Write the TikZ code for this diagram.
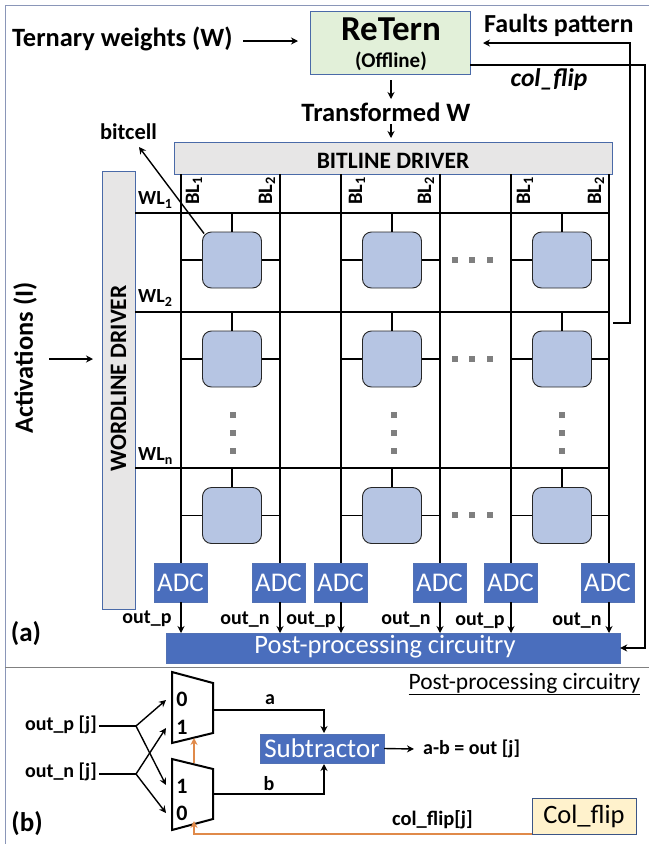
\documentclass[tikz,border=0pt]{standalone}
\usepackage{fontspec}
\setmainfont{Carlito}
\usetikzlibrary{arrows.meta}
\definecolor{edgeblue}{HTML}{4A6AA8}
\definecolor{adcblue}{HTML}{4A6EBD}
\definecolor{cellblue}{HTML}{B6C5E3}
\definecolor{drvgray}{HTML}{E7E6E6}
\definecolor{retgreen}{HTML}{E2F0D9}
\definecolor{flipyellow}{HTML}{FFF2CC}
\definecolor{orangeline}{HTML}{E08A4A}
\definecolor{framecol}{HTML}{8A96B8}
\definecolor{dotgray}{HTML}{7F7F7F}
\tikzset{
  lbl/.style={inner sep=0pt,font=\bfseries\fontsize{#1}{#1}\selectfont,text=black},
  lbl/.default=18,
  boxed/.style={draw=edgeblue,line width=0.9pt,inner sep=0pt,minimum width=#1},
  adcbox/.style={draw=adcblue!85!gray,fill=adcblue,inner sep=0pt,text=white,minimum width=52.5pt,minimum height=39pt,font=\fontsize{27}{27}\selectfont},
  cellbox/.style={draw=black!85,line width=0.9pt,fill=cellblue,rounded corners=9pt,minimum width=59pt,minimum height=56pt,inner sep=0pt},
  wire/.style={draw=black,line width=1.5pt},
  arr/.style={draw=black,line width=1.4pt,-{Stealth[length=7pt,width=7pt]}},
  oarr/.style={draw=orangeline,line width=1.4pt,-{Stealth[length=7pt,width=7pt]}},
  muxshape/.style={draw=black,line width=2pt},
  dotsq/.style={fill=dotgray,draw=none,minimum size=5.5pt,inner sep=0pt},
}
\begin{document}
\begin{tikzpicture}[x=1pt,y=-1pt]
\useasboundingbox (0,0) rectangle (649,844);
% frame
\coordinate (ftl) at (5,5); \coordinate (ftr) at (649,5); \coordinate (fbl) at (5,844);
\coordinate (sl) at (5,667); \coordinate (sr) at (649,667);
\draw[framecol,line width=0.8pt] (ftr) -- (ftl) -- (fbl);
\draw[gray,line width=0.8pt] (sl) -- (sr);

\node[boxed=438pt,fill=drvgray,minimum height=32pt] (bld) at (393,158) {};
\node[lbl=23.5] (bldt) at (393,161) {BITLINE DRIVER};
\node[boxed=33pt,fill=drvgray,minimum height=438pt] (wld) at (118.5,390) {};
\node[rotate=90,lbl=23.5] (wldt) at (118.5,378.5) {WORDLINE DRIVER};

\node[boxed=159.5pt,fill=retgreen,minimum height=63pt] (ret) at (390.2,42.5) {};
\node[lbl=35] (rett) at (391,29) {ReTern};
\node[lbl=21] (reto) at (391,61) {(Offline)};

\node[fill=adcblue,draw=adcblue!85!gray,inner sep=0pt,minimum width=454pt,minimum height=30pt] (post) at (393,648) {};
\node[inner sep=0pt,text=white,font=\fontsize{26.5}{26.5}\selectfont] (postt) at (385,647) {Post-processing circuitry};

% ADCs
\foreach \n/\x in {1/181,2/279,3/341,4/440,5/511,6/608}{
  \node[adcbox] (adc\n) at (\x-0.5,582.5) {ADC};
}
% bitlines
\foreach \n/\x in {1/181,2/280,3/341,4/440,5/511,6/609}{
  \coordinate (bt\n) at (\x,174);
  \coordinate (ab\n) at (\x,563);
  \coordinate (pb\n) at (\x,602);
  \coordinate (pt\n) at (\x,633);
  \draw[wire] (bt\n) -- (ab\n);
  \draw[arr] (pb\n) -- (pt\n);
}
% wordlines
\foreach \n/\y in {1/213,2/312,3/468}{
  \coordinate (wa\n) at (135,\y);
  \coordinate (wb\n) at (609,\y);
  \draw[wire] (wa\n) -- (wb\n);
}
% cells
\foreach \c/\x/\l/\r in {1/232/181/280,2/392/341/440,3/562/511/609}{
  \foreach \rw/\y/\w in {1/260/213,2/359/312,3/515.5/468}{
    \node[cellbox] (cell\c\rw) at (\x,\y) {};
    \coordinate (wt) at (\x,\w);
    \coordinate (ll) at (\l,\y);
    \coordinate (rr) at (\r,\y);
    \draw[wire] (wt) -- (cell\c\rw.north);
    \draw[wire] (ll) -- (cell\c\rw.west);
    \draw[wire] (rr) -- (cell\c\rw.east);
  }
}
% dots
\foreach \y in {260,359,515}{
  \foreach \x in {455,472,490}{ \node[dotsq] at (\x,\y) {}; }
}
\foreach \x in {233,394,562}{
  \foreach \y in {415,433,451}{ \node[dotsq] at (\x,\y) {}; }
}
% BL and WL labels
\foreach \x/\t in {194/1,267/2,357/1,426/2,525/1,596/2}{
  \node[rotate=90,lbl=20.5] at (\x,191) {BL\textsubscript{\t}};
}
\node[lbl=20,anchor=west] at (138,200) {WL\textsubscript{1}};
\node[lbl=20,anchor=west] at (138,298) {WL\textsubscript{2}};
\node[lbl=20,anchor=west] at (138,456) {WL\textsubscript{n}};

% top labels
\node[lbl=26.4,anchor=west] (tw) at (12,39) {Ternary weights (W)};
\coordinate (twa) at (243,41); \coordinate (twb) at (298,41);
\draw[arr] (twa) -- (twb);
\node[lbl=26,anchor=west] (fp) at (484,25) {Faults pattern};
\coordinate (fa) at (613,323); \coordinate (fb) at (630,323); \coordinate (fc) at (630,43); \coordinate (fd) at (483,43);
\draw[arr] (fa) -- (fb) -- (fc) -- (fd);
\coordinate (ca) at (470,65); \coordinate (cb) at (645,65); \coordinate (cc) at (645,648);
\draw[arr] (ca) -- (cb) -- (cc) -- (post.east);
\node[inner sep=0pt,font=\bfseries\itshape\fontsize{25.5}{25.5}\selectfont] (cf) at (549,80) {col\_flip};
\coordinate (ta) at (391,80); \coordinate (tb) at (391,99);
\draw[arr] (ta) -- (tb);
\node[lbl=26.5] (tw2) at (386,112) {Transformed W};
\coordinate (tc) at (391,124); \coordinate (td) at (391,138);
\draw[arr] (tc) -- (td);
\node[lbl=22.5] (bc) at (128.5,132) {bitcell};
\coordinate (bcb) at (139,147);
\draw[arr] (cell11.north west) ++(2,2) -- (bcb);
\node[rotate=90,lbl=26.4] (act) at (25,358) {Activations (I)};
\coordinate (aa) at (49,359); \coordinate (ab) at (93,359);
\draw[arr] (aa) -- (ab);
\node[lbl=27] (la) at (26,634) {(a)};

% out labels
\foreach \x/\y/\t in {147/619/out\_p,245/620/out\_n,311/620/out\_p,406/620/out\_n,480/621/out\_p,577/621/out\_n}{
  \node[lbl=20] at (\x,\y) {\t};
}

% part b
\node[inner sep=0pt,font=\fontsize{23.5}{23.5}\selectfont] (pc) at (524.5,684) {\underline{Post-processing circuitry}};
\node[lbl=27] (lb) at (27,824) {(b)};

\draw[muxshape] (172,672) -- (213,683) -- (213,733) -- (172,743) -- cycle;
\draw[muxshape] (172,759) -- (213,769) -- (213,819) -- (172,830) -- cycle;
\coordinate (m1o) at (213,710); \coordinate (m2o) at (213,794);
\coordinate (m1a) at (166,700); \coordinate (m1b) at (166,728);
\coordinate (m2a) at (166,785); \coordinate (m2b) at (166,813);
\node[lbl=22] at (182,699) {0};
\node[lbl=22] at (182,727) {1};
\node[lbl=22] at (182,786) {1};
\node[lbl=22] at (182,813) {0};

\node[lbl=20,anchor=east] (op) at (97,725) {out\_p [j]};
\node[lbl=20,anchor=east] (on) at (97,772) {out\_n [j]};
\coordinate (opj) at (136,726); \coordinate (onj) at (136,774);
\coordinate (ops) at (99,726); \coordinate (ons) at (99,774);
\draw[wire] (ops) -- (opj);
\draw[wire] (ons) -- (onj);
\draw[arr] (opj) -- (m1a);
\draw[arr] (opj) -- (m2a);
\draw[arr] (onj) -- (m1b);
\draw[arr] (onj) -- (m2b);

\node[fill=adcblue,draw=adcblue!85!gray,inner sep=0pt,minimum width=124pt,minimum height=29pt,text=white,font=\fontsize{27}{27}\selectfont] (sub) at (322,748.5) {Subtractor};
\coordinate (sa) at (324,710); \coordinate (sb) at (324,794);
\coordinate (st) at (324,733); \coordinate (sd) at (324,764);
\draw[arr] (m1o) -- (sa) -- (st);
\draw[arr] (m2o) -- (sb) -- (sd);
\node[lbl=20] (a) at (270,700) {a};
\node[lbl=20] (b) at (269,784) {b};
\coordinate (so) at (414,749);
\draw[arr] (sub.east) -- (so);
\node[lbl=20,anchor=west] (res) at (423,749) {a-b = out [j]};

\node[draw=edgeblue!80!black,line width=1pt,fill=flipyellow,inner sep=0pt,minimum width=104pt,minimum height=36pt,font=\fontsize{26.5}{26.5}\selectfont] (cfb) at (584,816) {Col\_flip};
\coordinate (oa) at (532,834); \coordinate (ob) at (194,834); \coordinate (oc) at (194,821);
\draw[oarr] (oa) -- (ob) -- (oc);
\coordinate (od) at (194,763); \coordinate (oe) at (194,738);
\draw[oarr] (od) -- (oe);
\node[lbl=20.5] (cfj) at (432.5,820) {col\_flip[j]};
\end{tikzpicture}
\end{document}
